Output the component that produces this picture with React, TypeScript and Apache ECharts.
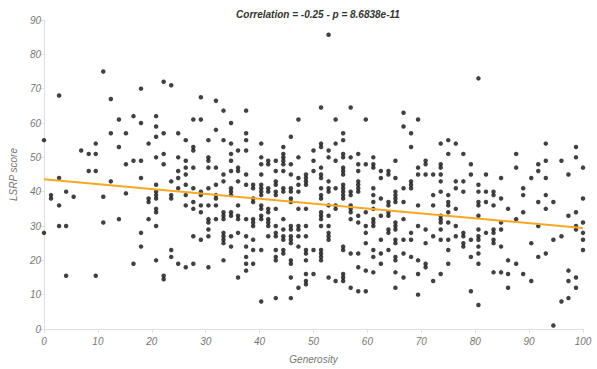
import React, { useEffect, useRef } from "react";
import * as echarts from "echarts";

// Each entry: [generosity, [LSRP scores at that generosity]]
const group0to25: [number, number[]][] = [
  [0, [55, 28]],
  [1.3, [39, 38]],
  [2.8, [68, 44, 36, 30]],
  [4.1, [40, 30, 15.5]],
  [5.5, [38.5]],
  [6.9, [52]],
  [8.3, [51, 46]],
  [9.6, [54, 51, 46, 15.5]],
  [11, [75, 38.5, 31]],
  [12.4, [67, 57, 43]],
  [13.9, [61, 53, 32]],
  [15.2, [57, 48, 39.5]],
  [16.6, [62, 49, 19]],
  [18, [70, 60, 49, 44, 28, 24]],
  [19.4, [54, 38, 37, 32]],
  [20.8, [62, 59, 56, 50, 42, 40, 39, 38, 35, 34, 30, 20]],
  [22.2, [72, 57, 51, 48, 15.5, 14.5]],
  [23.6, [71, 43, 39, 38, 23, 21]],
  [24.9, [57, 50, 46, 44, 41, 19]],
];

const group25to50: [number, number[]][] = [
  [26.3, [55, 49, 47, 45, 42, 39, 36, 18]],
  [27.7, [61, 53, 52, 47, 41, 37, 35, 27, 19]],
  [29.1, [67.5, 61, 40, 39, 36, 34, 26]],
  [30.5, [55, 50, 49, 47, 41, 36, 32, 31, 29, 27, 18]],
  [31.9, [66.5, 58, 47, 42, 39, 38, 36, 32]],
  [33.3, [63.6, 55, 45, 43, 34, 33, 32, 28, 27, 26, 25, 20]],
  [34.7, [60, 54, 51, 49, 46, 41, 40, 39, 34, 33, 27, 24]],
  [36, [52, 47, 46, 43, 36, 33, 32, 28, 15]],
  [37.5, [63.6, 57, 55, 52, 45, 42, 32, 27, 24, 21, 19, 17]],
  [38.8, [42, 41, 38, 37, 32, 31, 30, 26, 23, 19]],
  [40.3, [54, 50, 48, 45, 42, 41, 40, 39, 36, 35, 33, 32, 23, 8]],
  [41.6, [49, 48, 41, 40, 35, 34, 32, 31, 30, 27]],
  [43, [49, 46, 43, 42, 40, 39, 35, 30, 28, 27, 23, 21, 20, 9]],
  [44.4, [53, 51, 50, 49, 48, 46, 41, 40, 32, 29, 27, 26, 23, 22]],
  [45.8, [56, 48, 45, 41, 40, 38, 37, 30, 29, 27, 26, 25, 20, 19, 15, 9]],
  [47.2, [61, 50, 44, 42, 40, 35, 30, 29, 27, 24, 12]],
  [48.6, [45, 44, 43, 42, 35, 30, 27, 23, 22, 20, 16, 14, 13]],
];

const group50to75: [number, number[]][] = [
  [50, [52, 49, 46, 23, 16]],
  [51.4, [64.5, 54, 53, 47, 45, 44, 41, 39, 38, 34, 33, 32, 30, 23, 22, 21, 20]],
  [52.8, [85.7, 52, 50, 43, 41, 40, 36, 33, 30, 28, 27, 26, 15]],
  [54.1, [61, 54, 49, 41, 36, 35, 14]],
  [55.5, [57, 55, 51, 50, 47, 46, 45, 42, 41, 40, 39, 38, 24, 23, 16, 15, 14]],
  [56.9, [64.5, 50, 40, 39, 36, 35, 34, 32, 22, 12]],
  [58.3, [51, 48, 46, 43, 42, 41, 40, 33, 31, 22, 18, 11]],
  [59.7, [61, 48, 34, 30, 28, 25, 17, 11]],
  [61.1, [50, 48, 47, 41, 39, 37, 35, 32, 31, 30, 23, 21, 16.5]],
  [62.5, [46, 44, 38, 33, 26, 22, 19]],
  [63.9, [46, 45, 37, 36, 34, 33, 29, 28, 23]],
  [65.2, [49, 44, 40, 39, 38, 37, 31, 30, 29, 26, 25, 21, 20, 16.5, 12]],
  [66.7, [63, 59, 41, 37, 32, 26, 22, 15]],
  [68.1, [57, 53, 43, 42, 41, 28, 26, 21]],
  [69.4, [61, 47, 45, 36, 30, 20, 16, 10]],
  [70.8, [49, 48, 45, 29, 25, 19, 18]],
  [72.2, [45, 39, 36, 27, 14]],
  [73.6, [54, 48, 47, 45, 43, 40, 33, 32, 31, 29, 26, 16]],
];

const group75to100: [number, number[]][] = [
  [75, [55, 51, 39, 37, 36, 34, 31, 26, 23, 19]],
  [76.4, [54, 43, 41, 35, 30, 27]],
  [77.8, [51, 43, 40, 28, 27, 25, 24]],
  [79.2, [48, 45, 26, 21, 11]],
  [80.6, [73, 42, 40, 37, 36, 33, 29, 27, 26, 24, 22, 19, 7]],
  [82, [45, 40, 37, 28]],
  [83.4, [40, 39, 36, 29, 28, 26, 25, 16.5]],
  [84.8, [44, 38, 31, 29, 24, 16.5]],
  [86.1, [35, 20, 16, 12]],
  [87.6, [51, 47, 32, 19]],
  [88.9, [41, 39, 34, 16]],
  [90.4, [44, 25, 14]],
  [91.7, [48, 46, 37, 30, 21]],
  [93.1, [54, 49, 44, 39, 35, 22]],
  [94.5, [37, 26, 1]],
  [96, [49, 27, 8]],
  [97.3, [45, 33, 17, 14, 9]],
  [98.7, [53, 50, 34, 30, 29, 15, 12]],
  [100, [47, 38, 31, 28, 26, 23]],
];

const regressionLine: [number, number][] = [
  [0, 43.6],
  [100, 29.4],
];

const titleText = "Correlation = -0.25 - p = 8.6838e-11";
const xAxisName = "Generosity";
const yAxisName = "LSRP score";

const FONT = "'Liberation Sans', Arial, Helvetica, sans-serif";

export default function App() {
  const ref = useRef<HTMLDivElement>(null);

  useEffect(() => {
    document.body.style.margin = "0";
    if (!ref.current) return;
    const chart = echarts.init(ref.current, null, { renderer: "svg" });
    const points: [number, number][] = [];
    [group0to25, group25to50, group50to75, group75to100].forEach((g) =>
      g.forEach(([x, ys]) => ys.forEach((y) => points.push([x, y])))
    );

    const axisLabel = {
      color: "#777",
      fontStyle: "italic" as const,
      fontSize: 10,
      fontFamily: FONT,
    };

    chart.setOption({
      animation: false,
      backgroundColor: "#fff",
      title: {
        text: titleText,
        left: 313,
        top: 4,
        textAlign: "center",
        textStyle: {
          fontSize: 10,
          fontStyle: "italic",
          fontWeight: "bold",
          color: "#333",
          fontFamily: FONT,
        },
      },
      grid: { left: 44, right: 14, top: 20, bottom: 36 },
      xAxis: {
        type: "value",
        min: 0,
        max: 100,
        interval: 10,
        name: xAxisName,
        nameLocation: "middle",
        nameGap: 25,
        nameTextStyle: { ...axisLabel, fontSize: 10 },
        axisLine: { show: true, lineStyle: { color: "#e0e0e0", width: 1 } },
        axisTick: { show: true, length: 4, lineStyle: { color: "#e0e0e0" } },
        axisLabel: { ...axisLabel, margin: 7 },
        splitLine: { show: false },
      },
      yAxis: {
        type: "value",
        min: 0,
        max: 90,
        interval: 10,
        name: yAxisName,
        nameLocation: "middle",
        nameGap: 26,
        nameRotate: 90,
        nameTextStyle: { ...axisLabel, fontSize: 10 },
        axisLine: { show: true, lineStyle: { color: "#e0e0e0", width: 1 } },
        axisTick: { show: true, length: 5, lineStyle: { color: "#e0e0e0" } },
        axisLabel: { ...axisLabel, margin: 3 },
        splitLine: { show: false },
      },
      series: [
        {
          type: "scatter",
          data: points,
          symbol: "circle",
          symbolSize: 4.5,
          itemStyle: { color: "#111" },
          z: 2,
        },
        {
          type: "line",
          data: regressionLine,
          symbol: "none",
          lineStyle: { color: "#F7A823", width: 2 },
          z: 3,
        },
      ],
    });
    return () => chart.dispose();
  }, []);

  return <div ref={ref} style={{ width: 597, height: 369 }} />;
}
